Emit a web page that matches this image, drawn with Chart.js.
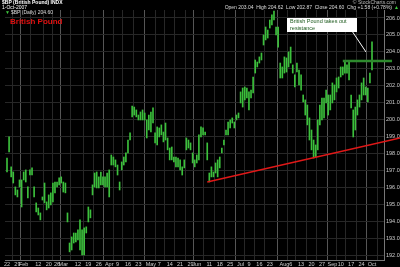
<!DOCTYPE html>
<html>
<head>
<meta charset="utf-8">
<script src="https://cdn.jsdelivr.net/npm/chart.js@4"></script>
<style>
  html, body { margin: 0; padding: 0; background: #000; }
  canvas { display: block; }
</style>
</head>
<body>
<canvas id="bpChart" width="400" height="267"></canvas>
<script>
// $BP daily range, one entry per trading day, 22 Jan 2007 - 1 Oct 2007
const highs = [
  197.76, 199.00, 197.24, 196.94, 196.06, 195.88, 196.47, 196.47, 196.94, 197.06,
  196.06, 197.06, 197.18, 196.06, 195.12, 194.82, 194.53, 195.47, 196.29, 195.18,
  195.59, 195.71, 196.29, 196.35, 196.35, 196.59, 196.65, 196.35, 196.29, 194.53,
  192.76, 193.12, 193.35, 193.35, 193.53, 194.12, 193.53, 193.65, 193.71, 194.88,
  194.71, 196.18, 196.88, 196.94, 196.65, 196.94, 196.65, 196.65, 196.88, 197.06,
  197.94, 197.82, 197.65, 197.35, 196.35, 197.53, 197.82, 198.06, 198.82, 199.24,
  200.82, 200.76, 200.59, 200.29, 200.47, 200.59, 200.41, 200.00, 200.29, 200.47,
  200.71, 199.24, 199.59, 199.53, 199.71, 199.29, 199.82, 198.94, 198.35, 198.41,
  197.82, 197.82, 197.76, 197.65, 197.24, 197.65, 198.94, 198.82, 198.65, 198.06,
  197.65, 197.94, 199.12, 199.59, 199.53, 199.29, 198.65, 196.88, 197.24, 196.94,
  197.47, 197.65, 197.82, 198.35, 198.82, 199.41, 199.88, 200.00, 200.12, 199.88,
  200.29, 200.41, 201.65, 201.88, 201.94, 201.88, 201.65, 201.76, 202.53, 203.53,
  203.41, 203.71, 203.94, 205.00, 205.47, 205.29, 205.88, 206.18, 206.41, 205.47,
  205.47, 203.35, 203.12, 203.71, 203.65, 204.00, 204.29, 203.24, 202.65, 203.35,
  202.94, 202.65, 201.47, 201.18, 200.88, 200.12, 199.41, 198.82, 198.53, 200.00,
  200.88, 201.29, 201.29, 201.76, 201.47, 201.47, 202.18, 202.06, 202.47, 202.53,
  203.12, 203.12, 203.41, 203.24, 203.41, 201.47, 200.59, 200.76, 201.18, 201.47,
  202.18, 202.47, 201.94, 201.88, 202.76, 204.59
];
const lows = [
  196.94, 198.12, 196.65, 196.29, 195.59, 195.47, 196.06, 194.88, 196.47, 196.35,
  195.41, 196.76, 196.76, 195.47, 194.59, 194.41, 194.12, 195.29, 195.12, 194.71,
  194.82, 195.00, 195.18, 195.71, 196.06, 196.18, 196.29, 195.76, 195.71, 194.00,
  192.24, 192.35, 192.76, 192.82, 192.94, 192.35, 192.06, 192.06, 193.35, 194.00,
  194.24, 195.59, 196.06, 196.00, 196.00, 196.18, 196.18, 196.06, 196.06, 195.47,
  197.35, 197.35, 197.24, 196.76, 195.88, 197.06, 197.35, 197.53, 198.06, 198.82,
  200.18, 200.29, 200.18, 200.00, 200.00, 200.00, 200.00, 198.94, 199.41, 199.29,
  199.82, 198.65, 198.53, 199.00, 199.12, 198.71, 198.82, 198.24, 197.65, 197.65,
  197.53, 197.24, 197.24, 197.06, 196.76, 197.18, 198.24, 198.35, 198.24, 197.47,
  197.24, 197.47, 197.65, 199.00, 199.12, 199.12, 197.65, 196.35, 196.65, 196.65,
  196.88, 196.65, 197.18, 198.06, 198.53, 199.12, 199.12, 199.53, 199.82, 199.53,
  200.00, 200.12, 201.00, 200.76, 201.18, 201.29, 200.59, 201.29, 201.59, 202.76,
  203.12, 203.35, 203.53, 204.41, 204.71, 204.82, 205.41, 205.59, 205.88, 205.00,
  204.29, 202.47, 202.47, 202.76, 202.82, 203.12, 203.35, 202.76, 201.94, 202.82,
  202.06, 201.76, 201.06, 200.29, 199.71, 198.82, 198.24, 197.76, 197.82, 198.24,
  199.71, 200.00, 200.12, 201.00, 200.29, 200.59, 201.00, 201.18, 201.65, 201.88,
  202.53, 202.65, 202.76, 202.76, 202.35, 200.71, 199.00, 199.41, 200.29, 200.76,
  201.18, 201.47, 201.47, 201.06, 202.18, 202.94
];

const firstDay = "2007-01-22";
const lastDay = "2007-10-01";
const holidays = ["2007-02-19", "2007-04-06", "2007-05-28", "2007-07-04", "2007-09-03"];
const monthNames = ["Jan", "Feb", "Mar", "Apr", "May", "Jun", "Jul", "Aug", "Sep", "Oct", "Nov", "Dec"];

const yTicks = [
  192.0, 192.5, 193.0, 193.5, 194.0, 194.5, 195.0, 195.5, 196.0, 196.5,
  197.0, 197.5, 198.0, 198.5, 199.0, 199.5, 200.0, 200.5, 201.0, 201.5,
  202.0, 202.5, 203.0, 203.5, 204.0, 204.5, 205.0, 205.5, 206.0
];

// drawn lines (bar index, price)
const trendX = [96, 188.4];
const trendY = [196.35, 198.94];
const resistX = [161, 184.6];
const resistY = [203.47, 203.47];

// ---- trading days ----
const tradeDates = [];
for (let d = new Date(firstDay + "T12:00:00Z"); d <= new Date(lastDay + "T12:00:00Z"); d.setUTCDate(d.getUTCDate() + 1)) {
    const wd = d.getUTCDay();
    if (wd === 0 || wd === 6 || holidays.includes(d.toISOString().slice(0, 10))) continue;
    tradeDates.push(new Date(d));
}

const monthTicks = [];
const weekTicks = [];
tradeDates.forEach((d, i) => {
    if (i > 0 && d.getUTCMonth() !== tradeDates[i - 1].getUTCMonth()) monthTicks.push(i);
    else if (i === 0 || d.getUTCDay() < tradeDates[i - 1].getUTCDay()) weekTicks.push(i);
});
const xLabels = {};
monthTicks.forEach(i => { xLabels[i] = monthNames[tradeDates[i].getUTCMonth()]; });
weekTicks.forEach(i => {
    if (monthTicks.every(m => Math.abs(m - i) >= 3)) xLabels[i] = String(tradeDates[i].getUTCDate());
});

const bars = highs.map((h, i) => ({ x: i, y: [lows[i], h] }));

// ---- header, title and note ----
const headerPlugin = {
    id: "header",
    afterDraw(chart) {
        const c = chart.ctx;
        c.save();
        c.textBaseline = "top";

        c.fillStyle = "#fff";
        c.font = "bold 5px 'Liberation Sans'";
        c.fillText("$BP (British Pound) INDX", 2, 0);
        c.font = "5px 'Liberation Sans'";
        c.fillText("1-Oct-2007", 2, 5);
        c.fillStyle = "#3fc83f";
        c.fillText("\u25BC", 5, 10);
        c.fillStyle = "#ddd";
        c.fillText("$BP (Daily) 204.60", 11, 10);

        c.textAlign = "right";
        c.fillStyle = "#bbb";
        c.fillText("\u00A9 StockCharts.com", 396, 0);
        c.fillStyle = "#ddd";
        c.fillText("Open 203.04  High 204.62  Low 202.87  Close 204.60  Chg +1.58 (+0.78%)", 392, 5);
        c.fillStyle = "#3fc83f";
        c.fillText("\u25B2", 399, 5);

        c.textAlign = "left";
        c.fillStyle = "#e01010";
        c.font = "bold 8px 'Liberation Sans'";
        c.fillText("British Pound", 10, 18);

        // note box
        c.fillStyle = "#fff";
        c.fillRect(287, 18, 70, 14);
        c.fillStyle = "#1d5a1d";
        c.font = "5.5px 'Liberation Sans'";
        c.fillText("British Pound takes out", 290, 19);
        c.fillText("resistance", 290, 25.5);
        c.strokeStyle = "#fff";
        c.lineWidth = 1;
        c.beginPath();
        c.moveTo(352, 31);
        c.lineTo(366, 52);
        c.stroke();
        c.restore();
    }
};

new Chart(document.getElementById("bpChart").getContext("2d"), {
    type: "bar",
    data: {
        datasets: [
            {
                type: "line",
                data: trendX.map((x, i) => ({ x: x, y: trendY[i] })),
                borderColor: "#e01818",
                borderWidth: 1.5,
                pointRadius: 0,
                clip: false,
                order: 0
            },
            {
                type: "line",
                data: resistX.map((x, i) => ({ x: x, y: resistY[i] })),
                borderColor: "#2e8a2e",
                borderWidth: 2.5,
                pointRadius: 0,
                clip: false,
                order: 1
            },
            {
                data: bars,
                backgroundColor: "#3cc03c",
                barThickness: 1,
                grouped: false,
                order: 2
            }
        ]
    },
    options: {
        responsive: false,
        animation: false,
        devicePixelRatio: 1,
        layout: { padding: { top: 10, left: 5, right: 0, bottom: 0 } },
        plugins: { legend: { display: false }, tooltip: { enabled: false } },
        scales: {
            x: {
                type: "linear",
                min: -0.96,
                max: 180.75,
                offset: false,
                afterBuildTicks: ax => { ax.ticks = Object.keys(xLabels).map(k => ({ value: +k })); },
                afterFit: ax => { ax.height = 7; },
                grid: {
                    color: c => (c.tick && monthTicks.includes(c.tick.value)) ? "#555" : "#272727",
                    drawTicks: false
                },
                border: { color: "#777" },
                ticks: {
                    autoSkip: false,
                    maxRotation: 0,
                    padding: 1,
                    color: "#ccc",
                    font: { size: 5.5, family: "'Liberation Sans'" },
                    callback: v => xLabels[v]
                }
            },
            y: {
                position: "right",
                min: 191.76,
                max: 206.47,
                afterBuildTicks: ax => { ax.ticks = yTicks.map(v => ({ value: v })); },
                afterFit: ax => { ax.width = 16; },
                grid: { color: "#272727", drawTicks: false },
                border: { color: "#777" },
                ticks: {
                    padding: 2,
                    color: "#ccc",
                    font: { size: 5.5, family: "'Liberation Sans'" },
                    callback: v => v.toFixed(1)
                }
            }
        }
    },
    plugins: [headerPlugin]
});
</script>
</body>
</html>
